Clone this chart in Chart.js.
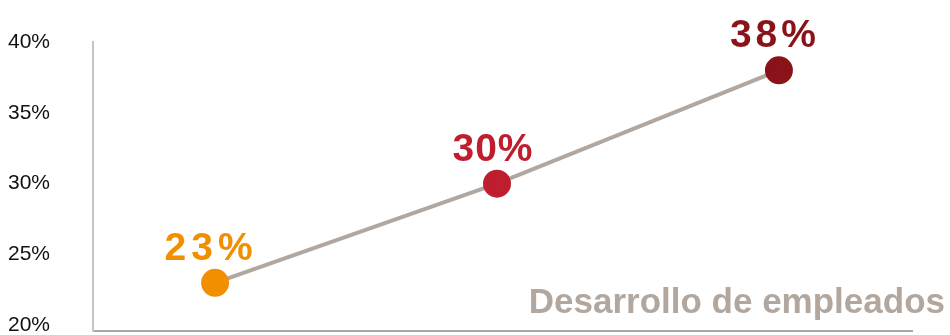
<!DOCTYPE html>
<html>
<head>
<meta charset="utf-8">
<script src="https://cdn.jsdelivr.net/npm/chart.js@4"></script>
<style>
  html, body { margin: 0; padding: 0; background: #fff; }
  #wrap { width: 950px; height: 335px; }
</style>
</head>
<body>
<div id="wrap"><canvas id="mycanvas"></canvas></div>
<script>
// data
var periods = [1, 2, 3];
var values = [23, 30, 38];
var yTicks = [20, 25, 30, 35, 40];
var seriesName = 'Desarrollo de empleados';

// one colour per point / value label
var pointColors = ['#f18f00', '#be1e2d', '#8a1319'];
var labelSpacing = [5, 1, 4];

var points = [];
for (var i in values) {
	points.push({ x: periods[i], y: values[i] });
}

var FONT = '"Liberation Sans", Arial, sans-serif';

// percentage labels above each point + series name in the corner
var valueLabels = {
	id: 'valueLabels',
	afterDatasetsDraw: function(chart) {
		var ctx = chart.ctx;
		var meta = chart.getDatasetMeta(0);
		ctx.save();
		ctx.font = 'bold 39px ' + FONT;
		ctx.textAlign = 'center';
		ctx.textBaseline = 'alphabetic';
		meta.data.forEach(function(pt, i) {
			ctx.letterSpacing = labelSpacing[i] + 'px';
			ctx.fillStyle = pointColors[i];
			ctx.fillText(values[i] + '%', pt.x - 4, pt.y - 23);
		});
		ctx.letterSpacing = '0px';
		var area = chart.chartArea;
		ctx.font = 'bold 35px ' + FONT;
		ctx.textAlign = 'right';
		ctx.fillStyle = '#b2a79f';
		ctx.fillText(seriesName, area.right + 33, area.bottom - 18);
		ctx.restore();
	}
};

var chartdata = {
	datasets: [
		{
			label: seriesName,
			data: points,
			borderColor: '#b2a79f',
			borderWidth: 4,
			backgroundColor: pointColors,
			pointBackgroundColor: pointColors,
			pointBorderColor: pointColors,
			pointRadius: 12,
			pointHoverRadius: 12,
			tension: 0
		}
	]
};

var ctx = document.getElementById('mycanvas');

var lineGraph = new Chart(ctx, {
	type: 'line',
	data: chartdata,
	plugins: [valueLabels],
	options: {
		responsive: true,
		maintainAspectRatio: false,
		animation: false,
		layout: {
			autoPadding: false,
			padding: { left: 6, right: 38, top: 42, bottom: 4 }
		},
		plugins: {
			legend: { display: false },
			tooltip: { enabled: false }
		},
		scales: {
			x: {
				type: 'linear',
				min: 0.567,
				max: 3.472,
				afterFit: function(scale) {
					scale.height = 0;
					scale.paddingLeft = 0;
					scale.paddingRight = 0;
				},
				ticks: { display: false },
				grid: { display: false, drawTicks: false },
				border: { display: true, color: '#a8a8a8', width: 2 }
			},
			y: {
				min: 19.6,
				max: 40,
				afterBuildTicks: function(scale) {
					scale.ticks = yTicks.map(function(v) { return { value: v }; });
				},
				afterFit: function(scale) {
					scale.width = 87;
					scale.paddingTop = 0;
					scale.paddingBottom = 0;
				},
				ticks: {
					padding: 43,
					color: '#111',
					font: { family: FONT, size: 21 },
					callback: function(v) { return v + '%'; }
				},
				grid: { display: false, drawTicks: false },
				border: { display: true, color: '#c4c4c4', width: 2 }
			}
		}
	}
});
</script>
</body>
</html>
